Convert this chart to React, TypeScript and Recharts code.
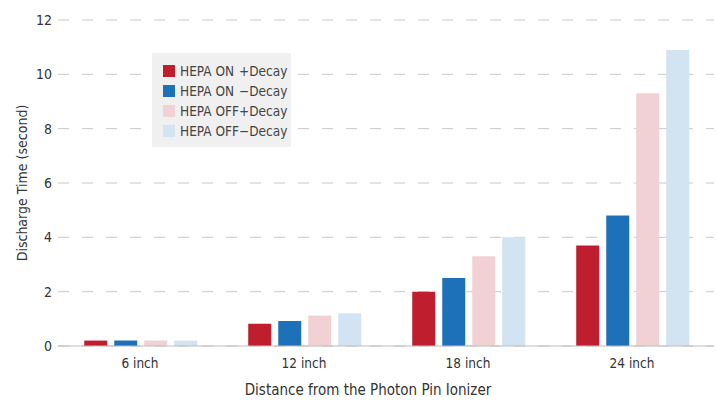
import { Bar, BarChart, CartesianGrid, Legend, XAxis, YAxis } from 'recharts';

const FONT = '"DejaVu Sans Condensed", "DejaVu Sans", sans-serif';
const TXT = { fontFamily: FONT, fontStretch: 'condensed' as const };

const CATEGORIES = ['6 inch', '12 inch', '18 inch', '24 inch'];
const ON_PLUS = [0.2, 0.82, 2.0, 3.7];
const ON_MINUS = [0.2, 0.92, 2.5, 4.8];
const OFF_PLUS = [0.2, 1.12, 3.3, 9.3];
const OFF_MINUS = [0.2, 1.2, 4.0, 10.9];
const Y_TICKS = [0, 2, 4, 6, 8, 10, 12];

const SERIES = [
  { key: 'onPlus', mode: 'HEPA ON', sign: '+Decay', color: '#be1e2d', values: ON_PLUS },
  { key: 'onMinus', mode: 'HEPA ON', sign: '\u2212Decay', color: '#1d71b8', values: ON_MINUS },
  { key: 'offPlus', mode: 'HEPA OFF', sign: '+Decay', color: '#f2d1d5', values: OFF_PLUS },
  { key: 'offMinus', mode: 'HEPA OFF', sign: '\u2212Decay', color: '#d2e3f1', values: OFF_MINUS },
];

const data = CATEGORIES.map((name, i) => {
  const row: Record<string, string | number> = { name };
  SERIES.forEach((s) => {
    row[s.key] = s.values[i];
  });
  return row;
});

function XTick({ x, y, payload }: any) {
  return (
    <text x={x} y={y + 22} textAnchor="middle" fill="#333" style={{ ...TXT, fontSize: 13.5 }}>
      {payload.value}
    </text>
  );
}

function YTick({ x, y, payload }: any) {
  return (
    <text x={x} y={y + 5} textAnchor="end" fill="#333" style={{ ...TXT, fontSize: 14 }}>
      {payload.value}
    </text>
  );
}

function LegendBox() {
  return (
    <div
      style={{
        ...TXT,
        background: '#f0f0f0',
        width: 139,
        padding: '8px 0 6px 11px',
        boxSizing: 'border-box',
        fontSize: 13.5,
        color: '#444',
        whiteSpace: 'nowrap',
      }}
    >
      {SERIES.map((s) => (
        <div key={s.key} style={{ display: 'flex', alignItems: 'center', height: 20 }}>
          <span style={{ width: 12, height: 12, background: s.color, marginRight: 5, flexShrink: 0 }} />
          <span style={{ width: 59, flexShrink: 0 }}>{s.mode}</span>
          <span>{s.sign}</span>
        </div>
      ))}
    </div>
  );
}

export default function App() {
  return (
    <div style={{ position: 'fixed', left: 0, top: 0, background: '#fff' }}>
      <BarChart
        width={717}
        height={401}
        data={data}
        margin={{ top: 20, right: 3, left: 0, bottom: 0 }}
        barCategoryGap="16%"
        barGap={7}
      >
        <CartesianGrid vertical={false} stroke="#c8c8c8" strokeDasharray="11 13" />
        <XAxis
          dataKey="name"
          height={55}
          tickSize={0}
          tickMargin={0}
          axisLine={{ stroke: '#bdbdbd' }}
          tick={<XTick />}
          label={{
            value: 'Distance from the Photon Pin Ionizer',
            position: 'insideBottom',
            offset: 6,
            dx: -18,
            style: { ...TXT, fontSize: 15, fill: '#333' },
          }}
        />
        <YAxis
          width={58}
          domain={[0, 12]}
          ticks={Y_TICKS}
          tickSize={0}
          tickMargin={6}
          axisLine={false}
          tick={<YTick />}
          label={{
            value: 'Discharge Time (second)',
            angle: -90,
            position: 'insideLeft',
            offset: 22,
            style: { ...TXT, textAnchor: 'middle', fontSize: 14, fill: '#333' },
          }}
        />
        <Legend
          layout="vertical"
          align="center"
          verticalAlign="middle"
          content={() => <LegendBox />}
          wrapperStyle={{ top: 53, left: 152, width: 139 }}
        />
        {SERIES.map((s) => (
          <Bar key={s.key} dataKey={s.key} fill={s.color} isAnimationActive={false} />
        ))}
      </BarChart>
    </div>
  );
}
